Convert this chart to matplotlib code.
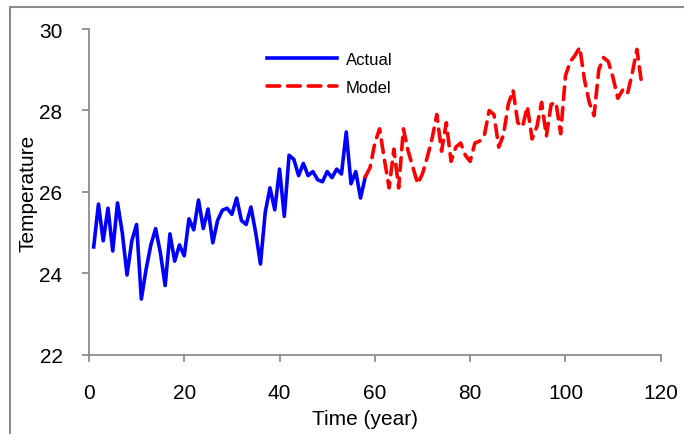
import matplotlib
matplotlib.use("Agg")
import matplotlib.pyplot as plt
from matplotlib.patches import Rectangle

plt.rcParams['font.family'] = ['Liberation Sans', 'DejaVu Sans']

# actual temperatures, years 1..58
actual_years = list(range(1, 59))
actual_temp = [24.65, 25.7, 24.8, 25.6, 24.55, 25.73, 25.0, 23.96, 24.8, 25.2,
               23.37, 24.1, 24.7, 25.1, 24.5, 23.7, 24.97, 24.3, 24.7, 24.43,
               25.34, 25.07, 25.8, 25.1, 25.58, 24.75, 25.3, 25.55, 25.6, 25.45,
               25.85, 25.3, 25.2, 25.63, 25.0, 24.23, 25.5, 26.1, 25.56, 26.56,
               25.4, 26.9, 26.8, 26.4, 26.7, 26.4, 26.5, 26.3, 26.25, 26.5,
               26.35, 26.56, 26.44, 27.47, 26.2, 26.5, 25.85, 26.37]

# model temperatures, years 58..116
model_years = list(range(58, 117))
model_temp = [26.37, 26.6, 27.2, 27.55, 26.8, 26.1, 27.05, 26.1, 27.55, 27.0,
              26.6, 26.2, 26.45, 26.85, 27.3, 27.9, 27.0, 27.7, 26.75, 27.1,
              27.2, 26.9, 26.75, 27.2, 27.25, 27.4, 28.0, 27.9, 27.1, 27.4,
              28.15, 28.5, 27.7, 27.6, 28.1, 27.3, 27.6, 28.2, 27.37, 28.15,
              28.2, 27.43, 28.85, 29.2, 29.35, 29.55, 28.75, 28.2, 27.87, 29.0,
              29.3, 29.2, 28.8, 28.3, 28.5, 28.4, 28.9, 29.5, 28.65]

fig = plt.figure(figsize=(6.84, 4.35), dpi=100)
ax = fig.add_axes([0.130, 0.182, 0.836, 0.749])

ax.plot(actual_years, actual_temp, color='#0000ff', lw=2.6, label='Actual',
        solid_joinstyle='round')
ax.plot(model_years, model_temp, color='#ff0000', lw=2.6, label='Model',
        dashes=(3.5, 2.2), dash_capstyle='round')

ax.set_xlim(0, 120)
ax.set_ylim(22, 30)
ax.set_xticks(range(0, 121, 20))
ax.set_yticks(range(22, 31, 2))
for s in ['top', 'right']:
    ax.spines[s].set_visible(False)
for s in ['left', 'bottom']:
    ax.spines[s].set_color('#8c8c8c')
    ax.spines[s].set_linewidth(1.3)
ax.tick_params(direction='out', length=5, width=1.3, color='#8c8c8c',
               labelsize=15)
ax.tick_params(axis='x', pad=15)
ax.tick_params(axis='y', pad=14)
ax.set_xlabel('Time (year)', fontsize=15, labelpad=5)
ax.xaxis.label.set_x(0.483)
ax.set_ylabel('Temperature', fontsize=15, labelpad=1)

leg = ax.legend(loc='upper left', bbox_to_anchor=(0.286, 0.975), frameon=False,
                fontsize=12, handlelength=4.2, handletextpad=0.5,
                labelspacing=0.75)

fig.patches.append(Rectangle((10 / 684, -0.05), 1.0, 1 - 8 / 435 + 0.05,
                             transform=fig.transFigure, fill=False,
                             edgecolor='#8c8c8c', lw=1.5))

fig.savefig('out.png', dpi=100)
